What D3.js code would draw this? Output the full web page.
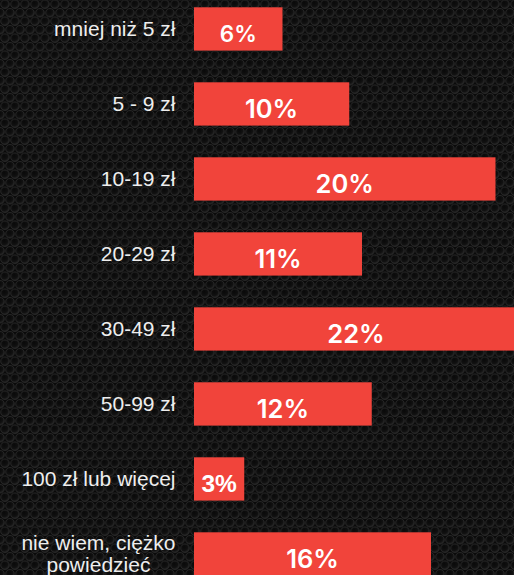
<!DOCTYPE html>
<html>
<head>
<meta charset="utf-8">
<script src="https://cdn.jsdelivr.net/npm/d3@7"></script>
<style>
  html, body { margin: 0; padding: 0; background: #0b0b0b; overflow: hidden; }
  svg { display: block; }
</style>
</head>
<body>
<svg id="chart" width="514" height="575"></svg>
<script>
// Data
const categories = [
  "mniej niż 5 zł",
  "5 - 9 zł",
  "10-19 zł",
  "20-29 zł",
  "30-49 zł",
  "50-99 zł",
  "100 zł lub więcej",
  "nie wiem, ciężko\npowiedzieć"
];
const values = [5.9, 10.35, 20.1, 11.2, 21.6, 11.85, 3.35, 15.8];
const valueLabels = ["6%", "10%", "20%", "11%", "22%", "12%", "3%", "16%"];

const W = 514, H = 575;
const svg = d3.select("#chart");

// Background carbon texture
const defs = svg.append("defs");
const rg = defs.append("radialGradient").attr("id", "ring")
  .attr("cx", "40%").attr("cy", "35%").attr("r", "60%");
rg.append("stop").attr("offset", "0%").attr("stop-color", "#090909");
rg.append("stop").attr("offset", "70%").attr("stop-color", "#111");
rg.append("stop").attr("offset", "100%").attr("stop-color", "#222");
const pat = defs.append("pattern").attr("id", "carbon")
  .attr("patternUnits", "userSpaceOnUse").attr("width", 10).attr("height", 17);
pat.append("rect").attr("width", 10).attr("height", 17).attr("fill", "#0a0a0a");
[[5, 4.25], [0, 12.75], [10, 12.75], [0, -4.25], [10, -4.25], [5, 21.25]].forEach(([cx, cy]) => {
  pat.append("circle").attr("cx", cx).attr("cy", cy).attr("r", 4.3)
    .attr("fill", "url(#ring)").attr("stroke", "#272727").attr("stroke-width", 0.9);
});
svg.append("rect").attr("width", W).attr("height", H).attr("fill", "url(#carbon)");

// Scales
const x = d3.scaleLinear().domain([0, 20]).range([194, 494]);
const y = d3.scaleBand().domain(d3.range(categories.length))
  .range([7.3, 575.6]).paddingInner(0.4227).paddingOuter(0);

const g = svg.append("g");

// Bars
g.selectAll("rect.bar").data(values).join("rect")
  .attr("class", "bar")
  .attr("x", x(0))
  .attr("y", (d, i) => y(i))
  .attr("width", d => x(d) - x(0))
  .attr("height", y.bandwidth())
  .attr("fill", "#f1443b");

// Value labels
g.selectAll("text.val").data(values).join("text")
  .attr("class", "val")
  .attr("x", d => (x(0) + x(d)) / 2)
  .attr("y", (d, i) => {
    const w = x(d) - x(0);
    return y(i) + y.bandwidth() / 2 + (w < 120 ? 13.2 : 14.3);
  })
  .attr("text-anchor", "middle")
  .attr("fill", "#ffffff")
  .attr("font-weight", d => (x(d) - x(0)) < 60 ? 700 : 600)
  .attr("font-family", d => (x(d) - x(0)) < 60 ? "'Liberation Sans', Arial, sans-serif" : "Inter, 'Open Sans', sans-serif")
  .attr("font-size", d => { const w = x(d) - x(0); return w < 60 ? 24.5 : (w < 120 ? 22.5 : 25.5); })
  .text((d, i) => valueLabels[i]);

// Category labels
const labelRight = 175.5;
const fs = 21, lh = 22;
categories.forEach((c, i) => {
  const lines = c.split("\n");
  const cy = y(i) + y.bandwidth() / 2;
  const t = g.append("text")
    .attr("fill", "#eeeeee")
    .attr("font-family", "'Liberation Sans', Arial, sans-serif")
    .attr("font-size", fs);
  if (lines.length === 1) {
    t.attr("x", labelRight).attr("y", cy + 7.3).attr("text-anchor", "end").text(c);
  } else {
    const spans = lines.map((l, k) => t.append("tspan").text(l));
    const widths = spans.map(s => s.node().getComputedTextLength());
    const maxW = d3.max(widths);
    const mid = labelRight - maxW / 2;
    const top = cy + 7.3 - (lines.length - 1) * lh / 2;
    spans.forEach((s, k) => s.attr("x", mid).attr("y", top + k * lh).attr("text-anchor", "middle"));
  }
});
</script>
</body>
</html>
